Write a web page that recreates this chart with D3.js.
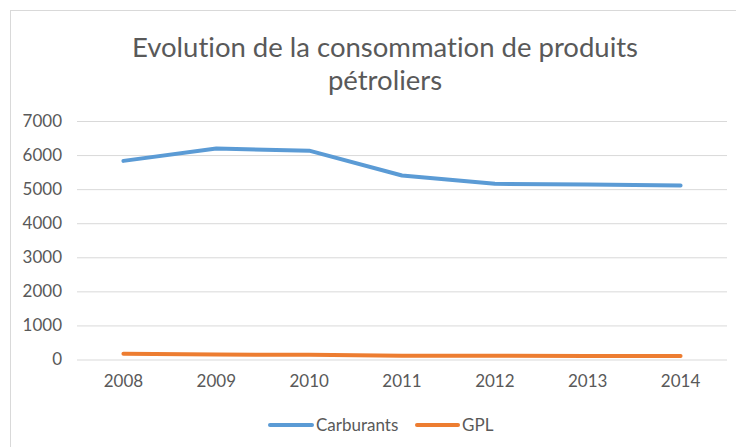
<!DOCTYPE html>
<html>
<head>
<meta charset="utf-8">
<script src="https://cdn.jsdelivr.net/npm/d3@7"></script>
<style>
  body { margin: 0; background: #fff; }
  svg text { font-family: Lato, "Open Sans", sans-serif; fill: #595959; font-variant-ligatures: none; }
</style>
</head>
<body>
<script>
// data
const years = ["2008", "2009", "2010", "2011", "2012", "2013", "2014"];
const carburants = [5830, 6190, 6130, 5400, 5155, 5135, 5110];
const gpl = [170, 145, 140, 110, 108, 106, 105];
const yTicks = [0, 1000, 2000, 3000, 4000, 5000, 6000, 7000];
const titleLines = ["Evolution de la consommation de produits", "pétroliers"];

const series = [
  { name: "Carburants", values: carburants, color: "#5B9BD5" },
  { name: "GPL", values: gpl, color: "#ED7D31" },
];

const W = 736, H = 447;
const plot = { left: 77, right: 727, top: 121, bottom: 359.5 };

const svg = d3.select("body").append("svg")
  .attr("width", W)
  .attr("height", H);

// chart frame
svg.append("rect")
  .attr("x", 10.5).attr("y", 10.5)
  .attr("width", 735).attr("height", 460)
  .attr("fill", "#fff")
  .attr("stroke", "#D9D9D9");

const x = d3.scaleBand()
  .domain(years)
  .range([plot.left, plot.right]);

const y = d3.scaleLinear()
  .domain([0, 7000])
  .range([plot.bottom, plot.top]);

// gridlines + y labels
const yAxis = svg.append("g")
  .attr("transform", `translate(${plot.left},0)`)
  .call(d3.axisLeft(y).tickValues(yTicks).tickFormat(d3.format("d"))
    .tickSize(-(plot.right - plot.left)).tickPadding(15));
yAxis.select(".domain").remove();
yAxis.selectAll(".tick line").attr("stroke", "#D9D9D9").attr("stroke-width", 1);
yAxis.selectAll(".tick text")
  .style("font-size", "17px")
  .attr("fill", "#595959");

// x labels
const xAxis = svg.append("g")
  .attr("transform", `translate(0,${plot.bottom})`)
  .call(d3.axisBottom(x).tickSize(0).tickPadding(15));
xAxis.select(".domain").remove();
xAxis.selectAll(".tick text")
  .style("font-size", "17px")
  .attr("fill", "#595959");

// lines
const line = d3.line()
  .x((d, i) => x(years[i]) + x.bandwidth() / 2)
  .y((d) => y(d));

svg.selectAll(".series")
  .data(series)
  .enter()
  .append("path")
  .attr("class", "series")
  .attr("d", (d) => line(d.values))
  .attr("fill", "none")
  .attr("stroke", (d) => d.color)
  .attr("stroke-width", 4)
  .attr("stroke-linejoin", "round")
  .attr("stroke-linecap", "round");

// title
svg.append("text")
  .attr("x", 385)
  .attr("y", 57)
  .attr("text-anchor", "middle")
  .style("font-size", "27.5px")
  .selectAll("tspan")
  .data(titleLines)
  .enter()
  .append("tspan")
  .attr("x", 385)
  .attr("dy", (d, i) => i === 0 ? 0 : 33)
  .text((d) => d);

// legend
const legend = svg.append("g").attr("class", "legend");
const legendPos = [{ x: 270, w: 42 }, { x: 417, w: 41 }];
series.forEach((s, i) => {
  const p = legendPos[i];
  legend.append("line")
    .attr("x1", p.x).attr("x2", p.x + p.w)
    .attr("y1", 425).attr("y2", 425)
    .attr("stroke", s.color)
    .attr("stroke-width", 4)
    .attr("stroke-linecap", "round");
  legend.append("text")
    .attr("x", p.x + p.w + 4)
    .attr("y", 431)
    .style("font-size", "17px")
    .text(s.name);
});
</script>
</body>
</html>
